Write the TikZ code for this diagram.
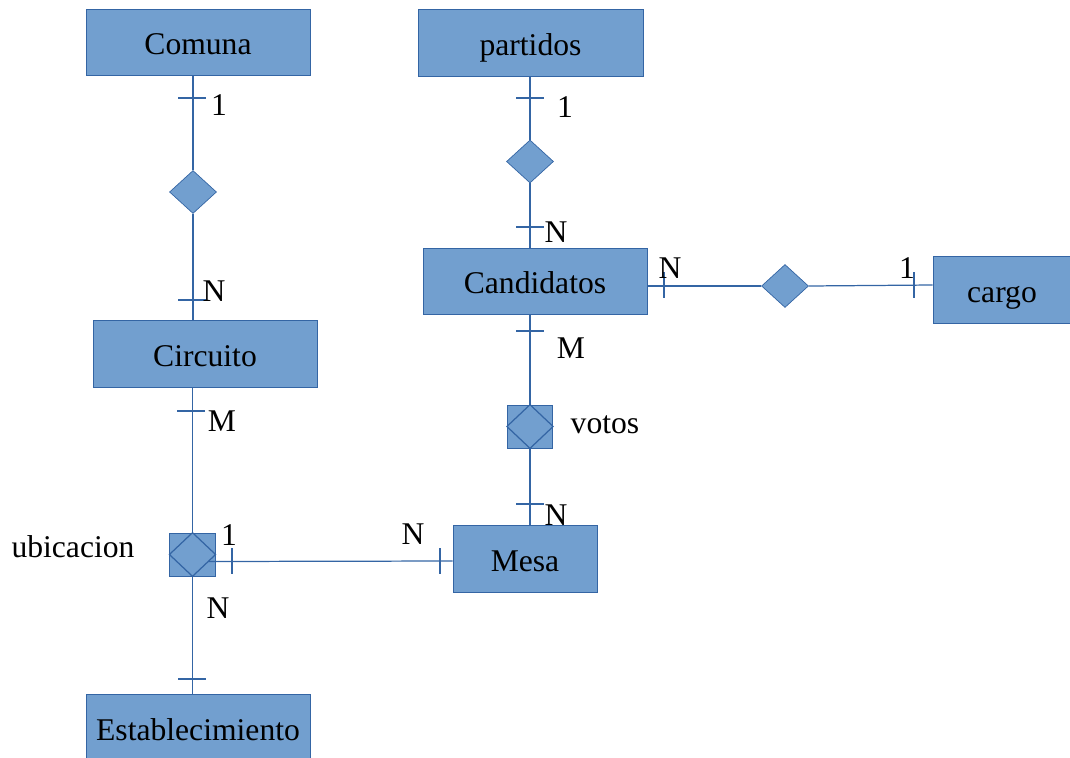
\documentclass[tikz,border=0pt]{standalone}
\usepackage{fontspec}
\setmainfont{Liberation Serif}
\usetikzlibrary{shapes.geometric}

\begin{document}
\begin{tikzpicture}[x=0.02cm,y=-0.02cm]
\definecolor{boxfill}{HTML}{729FCF}
\definecolor{boxline}{HTML}{3465A4}
\tikzstyle{entity} = [rectangle, draw=boxline, fill=boxfill, minimum height=1.33cm, inner sep=0, text height=14pt, text depth=0pt, font=\fontsize{18}{22}\selectfont]
\tikzstyle{rel} = [diamond, draw=boxline, fill=boxfill, minimum width=0.94cm, minimum height=0.86cm, inner sep=0]
\tikzstyle{assoc} = [rectangle, draw=boxline, fill=boxfill, minimum width=0.91cm, minimum height=0.86cm, inner sep=0]
\tikzstyle{card} = [inner sep=0, font=\fontsize{18}{22}\selectfont]
\tikzstyle{link} = [draw=boxline, line width=0.7pt]
\newcommand{\htick}[1]{\draw[link] (#1) +(-14,0) -- +(14,0);}
\newcommand{\vtick}[1]{\draw[link] (#1) +(0,-13) -- +(0,13);}

\useasboundingbox (0,0) rectangle (1070,757);

% entidades
\node[entity, minimum width=4.48cm] (com) at (198,42.5) {Comuna};
\node[entity, minimum width=4.5cm] (par) at (530.5,43) {partidos};
\node[entity, minimum width=4.48cm] (cand) at (535,281.5) {Candidatos};
\node[entity, minimum width=2.76cm] (cargo) at (1002,290) {cargo};
\node[entity, minimum width=4.48cm] (circ) at (205,354) {Circuito};
\node[entity, minimum width=2.88cm] (mesa) at (525,559) {Mesa};
\node[entity, minimum width=4.48cm] (est) at (198,728) {Establecimiento};

% relaciones
\node[rel] (r1) at (193,192) {};
\node[rel] (r2) at (530,161.5) {};
\node[rel] (r3) at (785,286) {};

\node[assoc] (votos) at (530,426.5) {};
\draw[link] (votos.north) -- (votos.east) -- (votos.south) -- (votos.west) -- cycle;
\node[assoc] (ubic) at (192.5,554.5) {};
\draw[link] (ubic.north) -- (ubic.east) -- (ubic.south) -- (ubic.west) -- cycle;

\node[card] at (605,425) {votos};
\node[card] at (73,547) {ubicacion};

% lineas
\draw[link] (r1.north |- com.south) -- (r1.north);
\draw[link] (r1.south) -- (r1.south |- circ.north);
\draw[link] (ubic.north |- circ.south) -- (ubic.north);
\draw[link] (ubic.south) -- (ubic.south |- est.north);
\draw[link] ([shift={(16,7)}]ubic.center) -- (mesa.west |- 0,561);
\draw[link] (r2.north |- par.south) -- (r2.north);
\draw[link] (r2.south) -- (r2.south |- cand.north);
\draw[link] (votos.north |- cand.south) -- (votos.north);
\draw[link] (votos.south) -- (votos.south |- mesa.north);
\draw[link] (cand.east |- r3.west) -- (r3.west);
\draw[link] (r3.east) -- (cargo.west |- 0,285);

% marcas
\htick{192,98}
\htick{192,300}
\htick{191,411}
\htick{192,679}
\vtick{232,561}
\vtick{440,561}
\htick{530,98}
\htick{530,227}
\htick{530,331}
\htick{530,504}
\vtick{664,285}
\vtick{914,285}

% cardinalidades
\node[card] at (219,105) {1};
\node[card] at (214,291) {N};
\node[card] at (222,421) {M};
\node[card] at (218,608) {N};
\node[card] at (229,535) {1};
\node[card] at (413,534) {N};
\node[card] at (565,107) {1};
\node[card] at (556,232) {N};
\node[card] at (571,348) {M};
\node[card] at (556,515) {N};
\node[card] at (670,268) {N};
\node[card] at (907,268) {1};
\end{tikzpicture}
\end{document}
